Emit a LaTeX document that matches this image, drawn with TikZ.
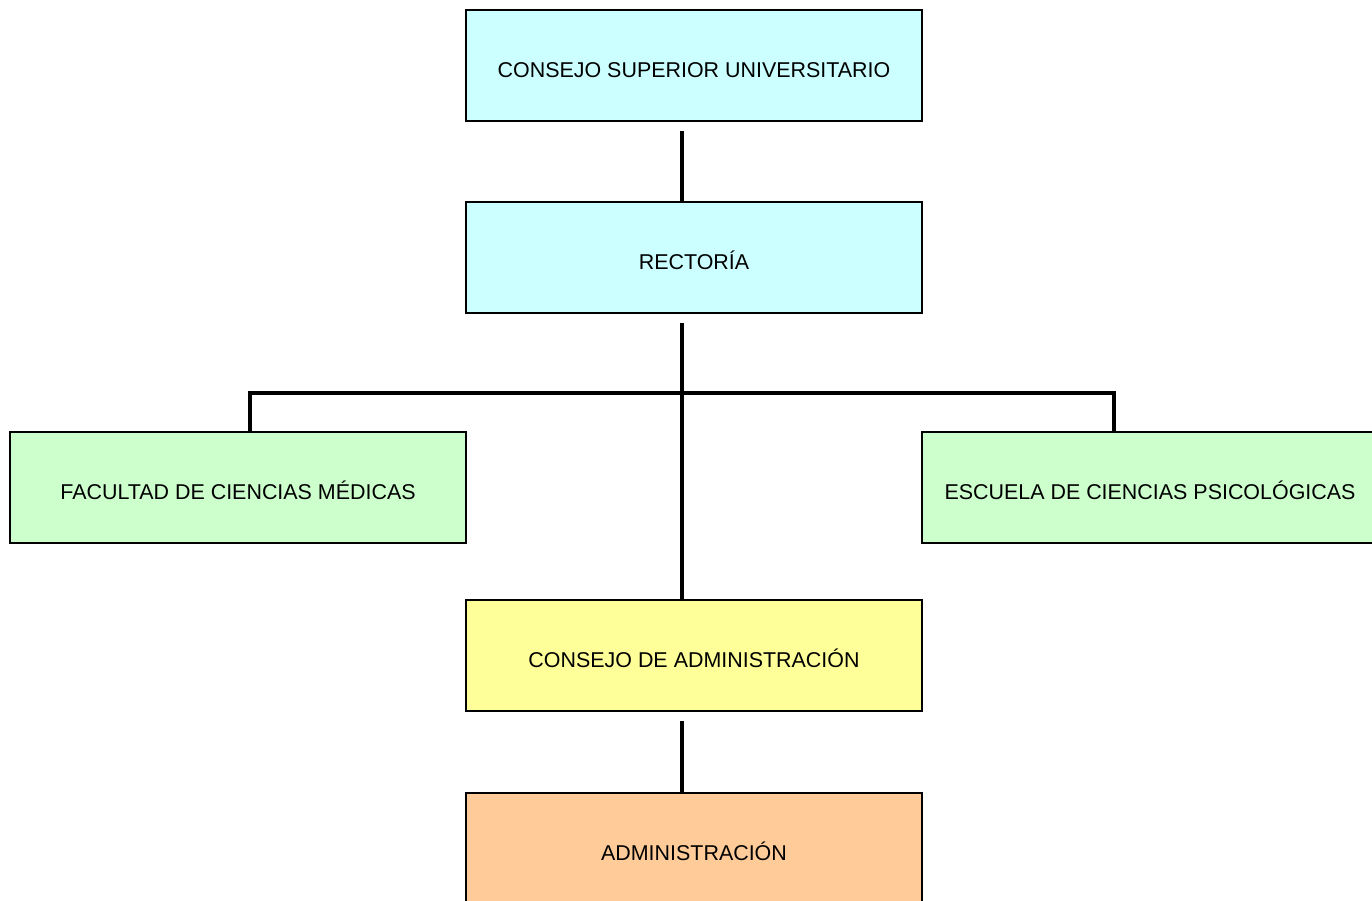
\documentclass[tikz,border=0pt]{standalone}
\usepackage{fontspec}
\setmainfont{Liberation Sans}
\usetikzlibrary{positioning}

\definecolor{celeste}{HTML}{CCFFFF}
\definecolor{verde}{HTML}{CCFFCC}
\definecolor{amarillo}{HTML}{FFFF99}
\definecolor{naranja}{HTML}{FFCC99}

\tikzset{
  caja/.style={draw, line width=1pt, minimum width=9.12cm, minimum height=2.22cm,
    inner sep=0pt, text height=13.3pt, text depth=0pt,
    font=\fontsize{12.2}{14}\selectfont},
  linea/.style={line width=2.2pt},
}

\begin{document}
\begin{tikzpicture}[x=0.02cm, y=-0.02cm]
    \useasboundingbox (0,0) rectangle (1372,901);

    \node[caja, fill=celeste] (csu) at (694,65.5) {CONSEJO SUPERIOR UNIVERSITARIO};
    \node[caja, fill=celeste] (rect) at (694,257.5) {RECTORÍA};

    \node[caja, fill=verde] (fac) at (238,487.5) {FACULTAD DE CIENCIAS MÉDICAS};
    \node[caja, fill=verde] (esc) at (1150,487.5) {ESCUELA DE CIENCIAS PSICOLÓGICAS};

    \node[caja, fill=amarillo] (cda) at (694,655.5) {CONSEJO DE ADMINISTRACIÓN};
    \node[caja, fill=naranja] (adm) at (694,848.5) {ADMINISTRACIÓN};

    \coordinate (busL) at (250,393);
    \coordinate (busR) at (1114,393);

    \draw[linea, shorten <=0.18cm] ([xshift=-0.24cm]csu.south) -- ([xshift=-0.24cm]rect.north);
    \draw[linea, shorten <=0.18cm] ([xshift=-0.24cm]rect.south) -- ([xshift=-0.24cm]cda.north);
    \draw[linea] (busL |- fac.north) -- (busL) -- (busR) -- (busR |- esc.north);
    \draw[linea, shorten <=0.18cm] ([xshift=-0.24cm]cda.south) -- ([xshift=-0.24cm]adm.north);
\end{tikzpicture}
\end{document}
